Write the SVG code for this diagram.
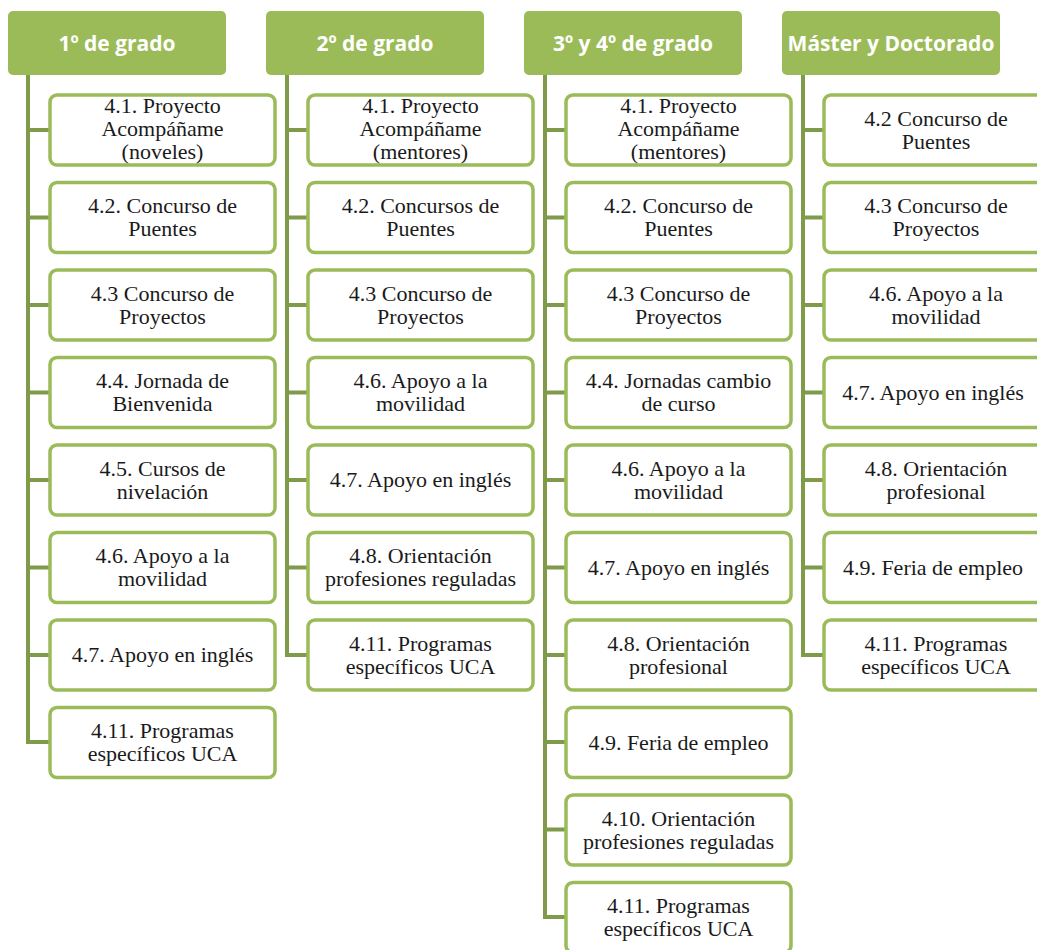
<svg xmlns="http://www.w3.org/2000/svg" width="1037" height="950" viewBox="0 0 1037 950">
<style>
.hdr{fill:#9BBB59}
.ht{font-family:"Open Sans","Liberation Sans",sans-serif;font-weight:bold;font-size:21px;fill:#fff;text-anchor:middle}
.box{fill:#fff;stroke:#9BBB59;stroke-width:3.5}
.bt{font-family:"Liberation Serif","Times New Roman",serif;font-size:22px;fill:#1a1a1a;text-anchor:middle}
.con{fill:none;stroke:#7F9A48;stroke-width:4}
</style>
<rect width="1037" height="950" fill="#fff"/>
<g id="connectors">
<path class="con" d="M28,75V742H50M28,130H50M28,217.5H50M28,305H50M28,392.5H50M28,480H50M28,567.5H50M28,655H50"/>
<path class="con" d="M287,75V655H308M287,130H308M287,217.5H308M287,305H308M287,392.5H308M287,480H308M287,567.5H308"/>
<path class="con" d="M545,75V917H566M545,130H566M545,217.5H566M545,305H566M545,392.5H566M545,480H566M545,567.5H566M545,655H566M545,742H566M545,829.5H566"/>
<path class="con" d="M803,75V655H824M803,130H824M803,217.5H824M803,305H824M803,392.5H824M803,480H824M803,567.5H824"/>
</g>
<g id="h1"><rect class="hdr" x="8" y="11" width="218" height="64" rx="5"/><text class="ht" x="117" y="51">1º de grado</text></g>
<g id="h2"><rect class="hdr" x="266" y="11" width="218" height="64" rx="5"/><text class="ht" x="375" y="51">2º de grado</text></g>
<g id="h3"><rect class="hdr" x="524" y="11" width="218" height="64" rx="5"/><text class="ht" x="633" y="51">3º y 4º de grado</text></g>
<g id="h4"><rect class="hdr" x="782" y="11" width="218" height="64" rx="5"/><text class="ht" x="891" y="51">Máster y Doctorado</text></g>

<g id="c1b1"><rect class="box" x="50" y="95" width="225" height="70" rx="7"/><text class="bt" x="162.5" y="113">4.1. Proyecto</text><text class="bt" x="162.5" y="136">Acompáñame</text><text class="bt" x="162.5" y="159">(noveles)</text></g>
<g id="c1b2"><rect class="box" x="50" y="182.5" width="225" height="70" rx="7"/><text class="bt" x="162.5" y="213">4.2. Concurso de</text><text class="bt" x="162.5" y="236">Puentes</text></g>
<g id="c1b3"><rect class="box" x="50" y="270" width="225" height="70" rx="7"/><text class="bt" x="162.5" y="300.5">4.3 Concurso de</text><text class="bt" x="162.5" y="323.5">Proyectos</text></g>
<g id="c1b4"><rect class="box" x="50" y="357.5" width="225" height="70" rx="7"/><text class="bt" x="162.5" y="388">4.4. Jornada de</text><text class="bt" x="162.5" y="411">Bienvenida</text></g>
<g id="c1b5"><rect class="box" x="50" y="445" width="225" height="70" rx="7"/><text class="bt" x="162.5" y="475.5">4.5. Cursos de</text><text class="bt" x="162.5" y="498.5">nivelación</text></g>
<g id="c1b6"><rect class="box" x="50" y="532.5" width="225" height="70" rx="7"/><text class="bt" x="162.5" y="563">4.6. Apoyo a la</text><text class="bt" x="162.5" y="586">movilidad</text></g>
<g id="c1b7"><rect class="box" x="50" y="620" width="225" height="70" rx="7"/><text class="bt" x="162.5" y="662">4.7. Apoyo en inglés</text></g>
<g id="c1b8"><rect class="box" x="50" y="707.5" width="225" height="70" rx="7"/><text class="bt" x="162.5" y="738">4.11. Programas</text><text class="bt" x="162.5" y="761">específicos UCA</text></g>

<g id="c2b1"><rect class="box" x="308" y="95" width="225" height="70" rx="7"/><text class="bt" x="420.5" y="113">4.1. Proyecto</text><text class="bt" x="420.5" y="136">Acompáñame</text><text class="bt" x="420.5" y="159">(mentores)</text></g>
<g id="c2b2"><rect class="box" x="308" y="182.5" width="225" height="70" rx="7"/><text class="bt" x="420.5" y="213">4.2. Concursos de</text><text class="bt" x="420.5" y="236">Puentes</text></g>
<g id="c2b3"><rect class="box" x="308" y="270" width="225" height="70" rx="7"/><text class="bt" x="420.5" y="300.5">4.3 Concurso de</text><text class="bt" x="420.5" y="323.5">Proyectos</text></g>
<g id="c2b4"><rect class="box" x="308" y="357.5" width="225" height="70" rx="7"/><text class="bt" x="420.5" y="388">4.6. Apoyo a la</text><text class="bt" x="420.5" y="411">movilidad</text></g>
<g id="c2b5"><rect class="box" x="308" y="445" width="225" height="70" rx="7"/><text class="bt" x="420.5" y="487">4.7. Apoyo en inglés</text></g>
<g id="c2b6"><rect class="box" x="308" y="532.5" width="225" height="70" rx="7"/><text class="bt" x="420.5" y="563">4.8. Orientación</text><text class="bt" x="420.5" y="586">profesiones reguladas</text></g>
<g id="c2b7"><rect class="box" x="308" y="620" width="225" height="70" rx="7"/><text class="bt" x="420.5" y="650.5">4.11. Programas</text><text class="bt" x="420.5" y="673.5">específicos UCA</text></g>

<g id="c3b1"><rect class="box" x="566" y="95" width="225" height="70" rx="7"/><text class="bt" x="678.5" y="113">4.1. Proyecto</text><text class="bt" x="678.5" y="136">Acompáñame</text><text class="bt" x="678.5" y="159">(mentores)</text></g>
<g id="c3b2"><rect class="box" x="566" y="182.5" width="225" height="70" rx="7"/><text class="bt" x="678.5" y="213">4.2. Concurso de</text><text class="bt" x="678.5" y="236">Puentes</text></g>
<g id="c3b3"><rect class="box" x="566" y="270" width="225" height="70" rx="7"/><text class="bt" x="678.5" y="300.5">4.3 Concurso de</text><text class="bt" x="678.5" y="323.5">Proyectos</text></g>
<g id="c3b4"><rect class="box" x="566" y="357.5" width="225" height="70" rx="7"/><text class="bt" x="678.5" y="388">4.4. Jornadas cambio</text><text class="bt" x="678.5" y="411">de curso</text></g>
<g id="c3b5"><rect class="box" x="566" y="445" width="225" height="70" rx="7"/><text class="bt" x="678.5" y="475.5">4.6. Apoyo a la</text><text class="bt" x="678.5" y="498.5">movilidad</text></g>
<g id="c3b6"><rect class="box" x="566" y="532.5" width="225" height="70" rx="7"/><text class="bt" x="678.5" y="574.5">4.7. Apoyo en inglés</text></g>
<g id="c3b7"><rect class="box" x="566" y="620" width="225" height="70" rx="7"/><text class="bt" x="678.5" y="650.5">4.8. Orientación</text><text class="bt" x="678.5" y="673.5">profesional</text></g>
<g id="c3b8"><rect class="box" x="566" y="707.5" width="225" height="70" rx="7"/><text class="bt" x="678.5" y="749.5">4.9. Feria de empleo</text></g>
<g id="c3b9"><rect class="box" x="566" y="795" width="225" height="70" rx="7"/><text class="bt" x="678.5" y="825.5">4.10. Orientación</text><text class="bt" x="678.5" y="848.5">profesiones reguladas</text></g>
<g id="c3b10"><rect class="box" x="566" y="882.5" width="225" height="70" rx="7"/><text class="bt" x="678.5" y="913">4.11. Programas</text><text class="bt" x="678.5" y="936">específicos UCA</text></g>

<g id="c4b1"><rect class="box" x="824" y="95" width="225" height="70" rx="7"/><text class="bt" x="936" y="125.5">4.2 Concurso de</text><text class="bt" x="936" y="148.5">Puentes</text></g>
<g id="c4b2"><rect class="box" x="824" y="182.5" width="225" height="70" rx="7"/><text class="bt" x="936" y="213">4.3 Concurso de</text><text class="bt" x="936" y="236">Proyectos</text></g>
<g id="c4b3"><rect class="box" x="824" y="270" width="225" height="70" rx="7"/><text class="bt" x="936" y="300.5">4.6. Apoyo a la</text><text class="bt" x="936" y="323.5">movilidad</text></g>
<g id="c4b4"><rect class="box" x="824" y="357.5" width="225" height="70" rx="7"/><text class="bt" x="933" y="399.5">4.7. Apoyo en inglés</text></g>
<g id="c4b5"><rect class="box" x="824" y="445" width="225" height="70" rx="7"/><text class="bt" x="936" y="475.5">4.8. Orientación</text><text class="bt" x="936" y="498.5">profesional</text></g>
<g id="c4b6"><rect class="box" x="824" y="532.5" width="225" height="70" rx="7"/><text class="bt" x="933" y="574.5">4.9. Feria de empleo</text></g>
<g id="c4b7"><rect class="box" x="824" y="620" width="225" height="70" rx="7"/><text class="bt" x="936" y="650.5">4.11. Programas</text><text class="bt" x="936" y="673.5">específicos UCA</text></g>
</svg>
